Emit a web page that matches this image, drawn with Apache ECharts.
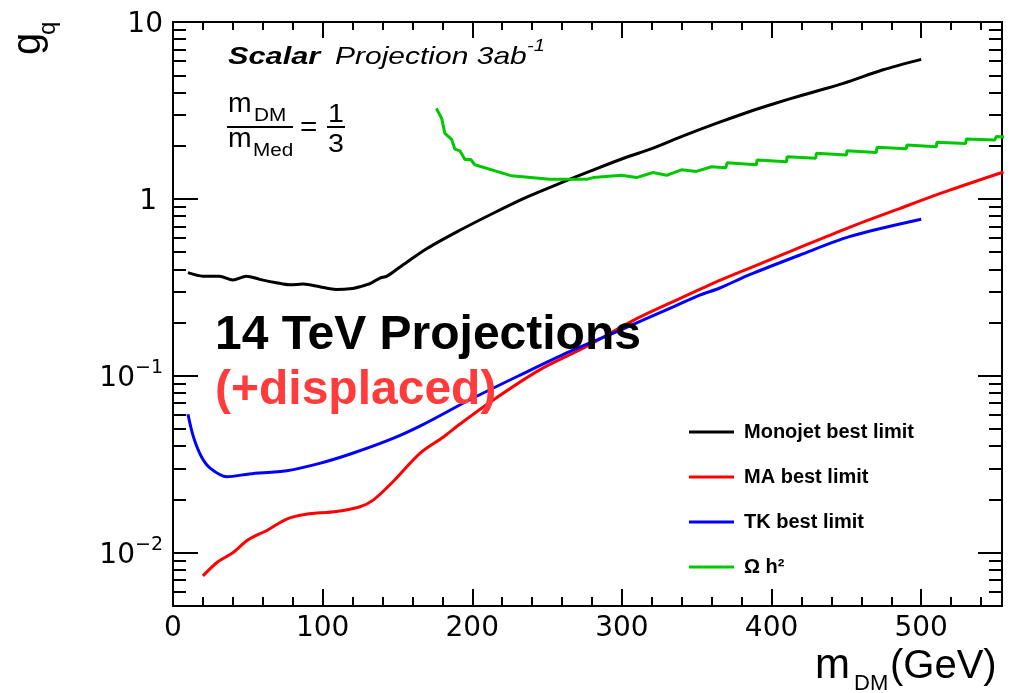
<!DOCTYPE html>
<html><head><meta charset="utf-8">
<script src="https://cdn.jsdelivr.net/npm/echarts@6/dist/echarts.min.js"></script>
<style>html,body{margin:0;padding:0;background:#fff}#c{width:1012px;height:693px}</style>
</head><body><div id="c"></div>
<script>
// ---- data ----
const monojetX = [10, 20, 31, 40, 49, 58, 69, 78, 87, 98, 109, 120, 125, 132, 138, 143, 152, 170, 192, 214, 236, 258, 281, 303, 319, 341, 363, 385, 401, 421, 448, 474, 500];
const monojetY = [0.383, 0.366, 0.366, 0.348, 0.366, 0.351, 0.336, 0.327, 0.33, 0.319, 0.308, 0.312, 0.319, 0.333, 0.356, 0.366, 0.414, 0.526, 0.667, 0.83, 1.02, 1.22, 1.46, 1.72, 1.91, 2.27, 2.67, 3.11, 3.44, 3.87, 4.50, 5.35, 6.15];
const maX = [20, 30, 40, 50, 63, 76, 89, 109, 125, 134, 147, 165, 181, 190, 214, 245, 276, 308, 339, 365, 385, 419, 452, 486, 519, 555];
const maY = [0.0074, 0.0089, 0.0100, 0.0118, 0.0134, 0.0155, 0.0165, 0.0171, 0.0182, 0.0199, 0.0252, 0.0365, 0.0453, 0.052, 0.073, 0.108, 0.146, 0.2067, 0.274, 0.345, 0.4055, 0.532, 0.691, 0.885, 1.12, 1.42];
const tkX = [10, 13.6, 19, 25, 36, 51, 76, 98, 120, 147, 167, 198, 232, 265, 299, 332, 352, 365, 385, 419, 452, 500];
const tkY = [0.0606, 0.0453, 0.0349, 0.030, 0.0269, 0.0279, 0.0291, 0.032, 0.0365, 0.0443, 0.053, 0.073, 0.101, 0.137, 0.1815, 0.2407, 0.286, 0.3126, 0.372, 0.482, 0.612, 0.767];
const omegaX = [176, 179.5, 181.7, 186.2, 188.4, 191.7, 195.1, 199, 201.7, 226.3, 251.8, 276.4, 280.8, 299.7, 309.7, 320.8, 329.8, 339.8, 349.8, 359.9, 369.4, 370.3, 389.9, 390.3, 410, 410.4, 429.5, 430, 450, 450.4, 470, 470.5, 490, 490.5, 510.1, 510.5, 529.7, 530.2, 549.1, 550.2, 556];
const omegaY = [3.25, 2.86, 2.35, 2.17, 1.91, 1.87, 1.67, 1.67, 1.56, 1.35, 1.29, 1.29, 1.32, 1.36, 1.32, 1.41, 1.36, 1.46, 1.43, 1.52, 1.50, 1.60, 1.56, 1.66, 1.62, 1.73, 1.70, 1.81, 1.77, 1.87, 1.83, 1.96, 1.92, 2.02, 1.97, 2.09, 2.06, 2.18, 2.15, 2.25, 2.24];
const seriesNames = ['Monojet best limit', 'MA best limit', 'TK best limit', 'Ω h²'];
const seriesColors = ['#000000', '#ff0000', '#0000ff', '#00c800'];
const seriesSmooth = [0.3, 0.3, 0.3, false];

// ---- axis ticks ----
const xRange = [0, 554];
const yRange = [0.005, 10];
const xMajorTicks = [0, 100, 200, 300, 400, 500];
const xMinorTicks = [20, 40, 60, 80, 120, 140, 160, 180, 220, 240, 260, 280, 320, 340, 360, 380, 420, 440, 460, 480, 520, 540];
const yMajorTicks = [0.01, 0.1, 1, 10];
const yMinorTicks = [0.006, 0.007, 0.008, 0.009, 0.02, 0.03, 0.04, 0.05, 0.06, 0.07, 0.08, 0.09, 0.2, 0.3, 0.4, 0.5, 0.6, 0.7, 0.8, 0.9, 2, 3, 4, 5, 6, 7, 8, 9];

const zip = (xs, ys) => xs.map((x, i) => [x, ys[i]]);
const seriesData = [zip(monojetX, monojetY), zip(maX, maY), zip(tkX, tkY), zip(omegaX, omegaY)];

const chart = echarts.init(document.getElementById('c'), null, {renderer: 'canvas'});
const LINE = {lineStyle: {color: '#000', width: 2}};
const TICKFONT = 'DejaVu Sans';

function xAxisDef(pos, ticks, len, labels) {
  return {
    type: 'value', position: pos, min: xRange[0], max: xRange[1],
    axisLine: {show: labels !== null, onZero: false, ...LINE},
    splitLine: {show: false},
    axisTick: {show: true, inside: true, length: len, customValues: ticks, lineStyle: {color: '#000', width: 2}},
    axisLabel: labels ? {show: true, customValues: ticks, color: '#000', fontFamily: TICKFONT, fontSize: 28, margin: 9,
      formatter: v => String(Math.round(v))} : {show: false}
  };
}
function yLabel(v) {
  if (Math.abs(v - 10) < 1e-6) return '{n|10}';
  if (Math.abs(v - 1) < 1e-6) return '{one|1}';
  if (Math.abs(v - 0.1) < 1e-7) return '{n|10}{s|−1}';
  if (Math.abs(v - 0.01) < 1e-8) return '{n|10}{s|−2}';
  return '';
}
function yAxisDef(pos, ticks, len, labels) {
  return {
    type: 'log', logBase: 10, position: pos, min: yRange[0], max: yRange[1],
    axisLine: {show: labels !== null, onZero: false, ...LINE},
    splitLine: {show: false},
    axisTick: {show: true, inside: true, length: len, customValues: ticks, lineStyle: {color: '#000', width: 2}},
    axisLabel: labels ? {show: true, customValues: ticks, color: '#000', margin: 10, formatter: yLabel,
      rich: {
        n: {fontFamily: TICKFONT, fontSize: 28, lineHeight: 34, verticalAlign: 'bottom', color: '#000'},
        one: {fontFamily: TICKFONT, fontSize: 28, lineHeight: 34, verticalAlign: 'bottom', color: '#000', padding: [0, 6, 0, 0]},
        s: {fontFamily: TICKFONT, fontSize: 19, lineHeight: 22, verticalAlign: 'top', color: '#000'}
      }} : {show: false}
  };
}

const FF = '"Liberation Sans", Arial, sans-serif';
function T(x, base, text, size, o) {
  o = o || {};
  const weight = o.bold ? 'bold' : 'normal';
  const style = o.italic ? 'italic' : 'normal';
  return {
    type: 'text', x: x, y: base - 0.33 * size, scaleX: o.sx || 1, rotation: o.rot || 0, z: 100,
    style: {text: text, x: 0, y: 0, font: style + ' ' + weight + ' ' + size + 'px ' + FF,
      fill: o.color || '#000', align: o.align || 'left', verticalAlign: 'middle'}
  };
}

const graphics = [
  // y-axis title g_q (rotated)
  {type: 'text', x: 29, y: 55, rotation: Math.PI / 2, style: {text: 'g', x: 0, y: 0, font: 'normal 40px ' + FF, fill: '#000', align: 'left', verticalAlign: 'middle'}},
  {type: 'text', x: 48, y: 35, rotation: Math.PI / 2, style: {text: 'q', x: 0, y: 0, font: 'normal 24px ' + FF, fill: '#000', align: 'left', verticalAlign: 'middle'}},
  // x-axis title m_DM(GeV)
  T(815, 680, 'm', 42),
  T(854, 691, 'DM', 22),
  T(890, 680, '(GeV)', 40),
  // Scalar Projection 3ab^-1
  T(228, 65, 'Scalar', 24, {bold: true, italic: true, sx: 1.28}),
  T(335, 65, 'Projection 3ab', 24, {italic: true, sx: 1.25}),
  T(527, 52, '-1', 16, {italic: true, sx: 1.25}),
  // fraction m_DM / m_Med = 1/3
  T(228, 113, 'm', 27, {sx: 1.05}),
  T(254, 122, 'DM', 18, {sx: 1.15}),
  {type: 'line', shape: {x1: 227, y1: 127, x2: 293, y2: 127}, style: {stroke: '#000', lineWidth: 2}},
  T(228, 148, 'm', 27, {sx: 1.05}),
  T(253, 157, 'Med', 18, {sx: 1.15}),
  T(300, 137, '=', 27, {sx: 1.1}),
  T(328, 123, '1', 26, {sx: 1.1}),
  {type: 'line', shape: {x1: 327, y1: 127, x2: 345, y2: 127}, style: {stroke: '#000', lineWidth: 2}},
  T(328, 153, '3', 26, {sx: 1.1}),
  // overlay texts
  T(215, 352, '14 TeV Projections', 48, {bold: true}),
  T(215, 407, '(+displaced)', 48, {bold: true, color: '#ff3b3b'})
];

chart.setOption({
  animation: false,
  backgroundColor: '#fff',
  grid: {left: 173, right: 10, top: 22, bottom: 87, containLabel: false},
  xAxis: [
    xAxisDef('bottom', xMajorTicks, 17, true),
    xAxisDef('bottom', xMinorTicks, 9, null),
    xAxisDef('top', xMajorTicks, 16, false),
    xAxisDef('top', xMinorTicks, 8, null)
  ],
  yAxis: [
    yAxisDef('left', yMajorTicks, 25, true),
    yAxisDef('left', yMinorTicks, 13, null),
    yAxisDef('right', yMajorTicks, 24, false),
    yAxisDef('right', yMinorTicks, 13, null)
  ],
  legend: {
    orient: 'vertical', left: 689, top: 422, padding: 0, itemGap: 25,
    itemWidth: 45, itemHeight: 3, icon: 'rect', selectedMode: false,
    textStyle: {fontFamily: FF, fontWeight: 'bold', fontSize: 20, lineHeight: 20, color: '#000', padding: [0, 0, 0, 5]},
    data: seriesNames
  },
  series: seriesNames.map((n, i) => ({
    name: n, type: 'line', xAxisIndex: 0, yAxisIndex: 0, data: seriesData[i],
    showSymbol: false, symbol: 'none', silent: true, clip: true, smooth: seriesSmooth[i],
    color: seriesColors[i], itemStyle: {color: seriesColors[i]},
    lineStyle: {color: seriesColors[i], width: 3}
  })),
  graphic: graphics
});
</script>
</body></html>
